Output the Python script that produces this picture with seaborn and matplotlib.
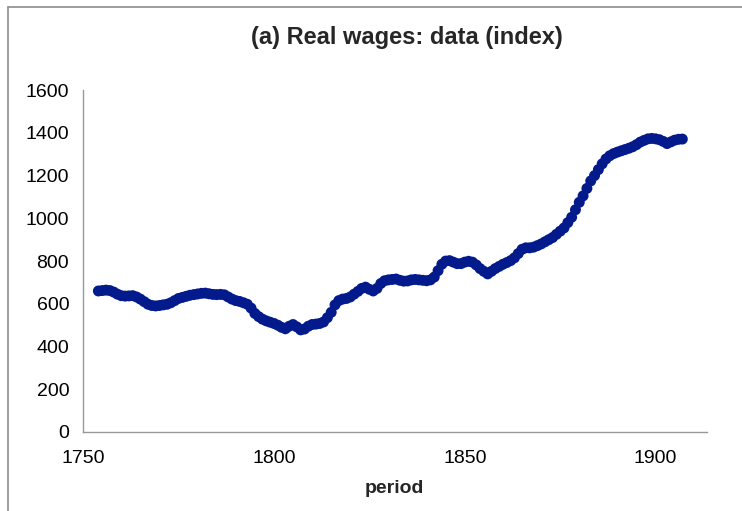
import numpy as np
import pandas as pd
import matplotlib
matplotlib.use("Agg")
import matplotlib.pyplot as plt
import seaborn as sns
from matplotlib.lines import Line2D

# real wage index, one point per year
years = list(range(1754, 1908))
wages = [
    660, 662, 664, 662, 655, 645, 638, 636, 637, 638,   # 1754-1763
    632, 622, 610, 598, 592, 590, 592, 595, 598, 605,   # 1764-1773
    615, 625, 630, 635, 640, 643, 646, 649, 650, 647,   # 1774-1783
    644, 643, 644, 642, 632, 622, 615, 611, 605, 598,   # 1784-1793
    580, 555, 540, 528, 520, 514, 508, 500, 490, 483,   # 1794-1803
    495, 503, 492, 478, 482, 495, 503, 505, 508, 515,   # 1804-1813
    535, 560, 595, 615, 622, 625, 632, 645, 658, 672,   # 1814-1823
    678, 668, 660, 672, 695, 708, 712, 714, 716, 710,   # 1824-1833
    706, 707, 712, 714, 712, 710, 708, 712, 725, 755,   # 1834-1843
    785, 800, 802, 795, 788, 788, 795, 799, 795, 782,   # 1844-1853
    765, 752, 740, 752, 765, 775, 785, 793, 802, 815,   # 1854-1863
    835, 855, 862, 862, 865, 872, 880, 890, 900, 910,   # 1864-1873
    925, 940, 955, 980, 1005, 1040, 1075, 1105, 1140, 1175,  # 1874-1883
    1200, 1228, 1255, 1278, 1293, 1303, 1310, 1316, 1322, 1328,  # 1884-1893
    1335, 1345, 1357, 1365, 1372, 1374, 1372, 1368, 1360, 1350,  # 1894-1903
    1358, 1366, 1370, 1371,                                      # 1904-1907
]
x_ticks = [1750, 1800, 1850, 1900]
y_ticks = list(range(0, 1601, 200))

df = pd.DataFrame({"period": years, "wage": wages})

sns.set_style("white")
plt.rcParams["font.family"] = ["Liberation Sans", "DejaVu Sans"]

fig = plt.figure(figsize=(7.42, 5.11), dpi=100)
ax = fig.add_axes([0.112, 0.1546, 0.841, 0.669])

sns.scatterplot(data=df, x="period", y="wage", ax=ax, color="#021A8C",
                s=62, edgecolor="none", legend=False)

ax.set_xlim(1750, 1913.5)
ax.set_ylim(0, 1600)
ax.set_xticks(x_ticks)
ax.set_yticks(y_ticks)
ax.tick_params(axis="both", labelsize=14, colors="#888888", labelcolor="black",
               length=5, width=1, direction="out", pad=5)
ax.tick_params(axis="x", pad=8)
sns.despine(ax=ax)
for side in ["left", "bottom"]:
    ax.spines[side].set_color("#999999")
    ax.spines[side].set_linewidth(1)
ax.set_xlabel("")
ax.set_ylabel("")

fig.text(0.549, 0.927, "(a) Real wages: data (index)", ha="center", va="center",
         fontsize=17, fontweight="bold")
fig.text(0.532, 0.045, "period", ha="center", va="center",
         fontsize=14, fontweight="bold")

# chart frame (only top and left edges visible)
fig.add_artist(Line2D([8 / 742, 1], [1 - 7 / 511, 1 - 7 / 511],
                      transform=fig.transFigure, color="#8c8c8c", lw=1.2))
fig.add_artist(Line2D([8 / 742, 8 / 742], [0, 1 - 7 / 511],
                      transform=fig.transFigure, color="#8c8c8c", lw=1.2))

fig.savefig("out.png", dpi=100)
